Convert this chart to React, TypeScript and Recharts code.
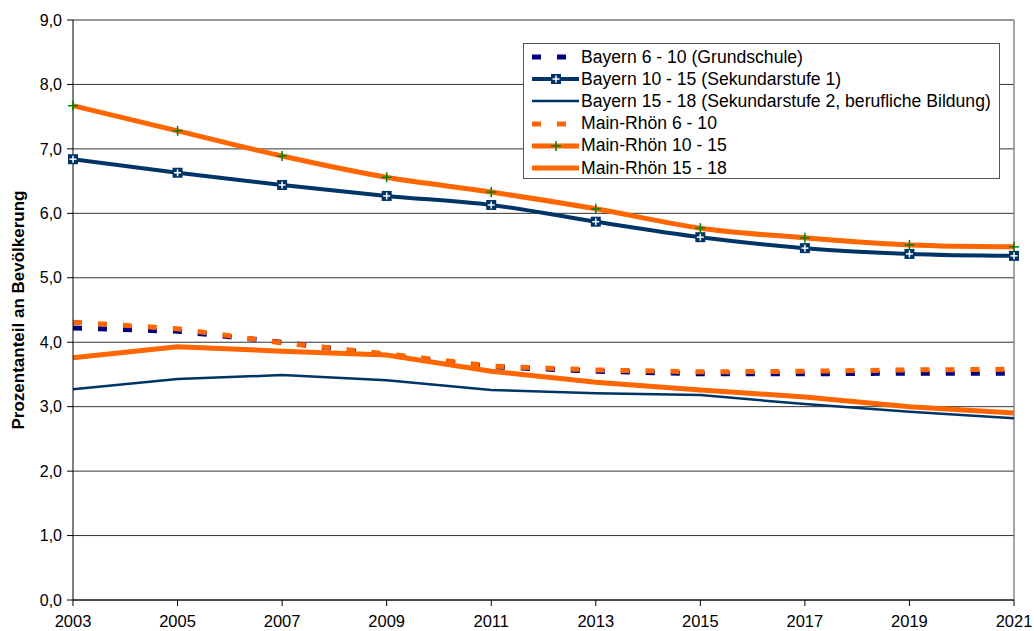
import React from 'react';
import { LineChart, Line, XAxis, YAxis, CartesianGrid, ReferenceLine } from 'recharts';

const years = [2003, 2005, 2007, 2009, 2011, 2013, 2015, 2017, 2019, 2021];
const bayern610 = [4.22, 4.17, 4.0, 3.8, 3.62, 3.55, 3.51, 3.51, 3.52, 3.52];
const bayern1015 = [6.84, 6.63, 6.44, 6.27, 6.13, 5.87, 5.63, 5.46, 5.37, 5.34];
const bayern1518 = [3.27, 3.43, 3.49, 3.41, 3.26, 3.21, 3.18, 3.04, 2.92, 2.82];
const mr610 = [4.31, 4.21, 3.99, 3.82, 3.63, 3.57, 3.54, 3.55, 3.57, 3.58];
const mr1015 = [7.67, 7.28, 6.89, 6.56, 6.33, 6.07, 5.77, 5.62, 5.51, 5.48];
const mr1518 = [3.76, 3.93, 3.86, 3.8, 3.55, 3.38, 3.26, 3.15, 3.0, 2.9];
const yTicks = [0, 1, 2, 3, 4, 5, 6, 7, 8, 9];

const data = years.map((y, i) => ({
  year: y,
  b610: bayern610[i],
  b1015: bayern1015[i],
  b1518: bayern1518[i],
  m610: mr610[i],
  m1015: mr1015[i],
  m1518: mr1518[i],
}));

const NAVY = '#000080';
const DARKBLUE = '#003366';
const ORANGE = '#FF6600';
const GREEN = '#008000';
const FONT = '"Liberation Sans", Arial, sans-serif';

const series = [
  { key: 'b610', name: 'Bayern 6 - 10 (Grundschule)', color: NAVY, width: 5, dash: '9 16', marker: 'none', curve: 'linear' },
  { key: 'b1015', name: 'Bayern 10 - 15 (Sekundarstufe 1)', color: DARKBLUE, width: 4, dash: undefined, marker: 'square', curve: 'monotone' },
  { key: 'b1518', name: 'Bayern 15 - 18 (Sekundarstufe 2, berufliche Bildung)', color: DARKBLUE, width: 2.5, dash: undefined, marker: 'none', curve: 'linear' },
  { key: 'm610', name: 'Main-Rhön 6 - 10', color: ORANGE, width: 5, dash: '9 16', marker: 'none', curve: 'linear' },
  { key: 'm1015', name: 'Main-Rhön 10 - 15', color: ORANGE, width: 5, dash: undefined, marker: 'plus', curve: 'monotone' },
  { key: 'm1518', name: 'Main-Rhön 15 - 18', color: ORANGE, width: 5, dash: undefined, marker: 'none', curve: 'linear' },
];

const SquareDot = (props: any) => {
  const { cx, cy } = props;
  if (cx == null || cy == null) return null;
  return (
    <g>
      <rect x={cx - 5} y={cy - 5} width={10} height={10} fill={DARKBLUE} />
      <line x1={cx - 3.5} x2={cx + 3.5} y1={cy} y2={cy} stroke="#fff" strokeWidth={1.5} />
      <line x1={cx} x2={cx} y1={cy - 3.5} y2={cy + 3.5} stroke="#fff" strokeWidth={1.5} />
    </g>
  );
};

const PlusDot = (props: any) => {
  const { cx, cy } = props;
  if (cx == null || cy == null) return null;
  return (
    <g>
      <line x1={cx - 5} x2={cx + 5} y1={cy} y2={cy} stroke={GREEN} strokeWidth={1.5} />
      <line x1={cx} x2={cx} y1={cy - 5} y2={cy + 5} stroke={GREEN} strokeWidth={1.5} />
    </g>
  );
};

const LegendBox = () => (
  <div
    style={{
      position: 'absolute',
      left: 523,
      top: 43,
      width: 477,
      height: 136,
      border: '1px solid #555',
      background: '#fff',
      padding: '2px 0 0 0',
      fontFamily: FONT,
      fontSize: 17.6,
      color: '#000',
      boxSizing: 'border-box',
    }}
  >
    {series.map((s) => (
      <div key={s.key} style={{ display: 'flex', alignItems: 'center', height: 22.2 }}>
        <svg width={56} height={22} style={{ flex: 'none' }}>
          <line
            x1={8}
            x2={55}
            y1={11}
            y2={11}
            stroke={s.color}
            strokeWidth={s.width}
            strokeDasharray={s.dash ? '9 16' : undefined}
          />
          {s.marker === 'square' && <SquareDot cx={32} cy={11} />}
          {s.marker === 'plus' && <PlusDot cx={32} cy={11} />}
        </svg>
        <span style={{ marginLeft: 1, whiteSpace: 'nowrap' }}>{s.name}</span>
      </div>
    ))}
  </div>
);

const YLabel = (props: any) => {
  const vb = props.viewBox || {};
  const cx = 18;
  const cy = (vb.y ?? 20) + (vb.height ?? 580) / 2;
  return (
    <text
      x={cx}
      y={cy}
      transform={`rotate(-90, ${cx}, ${cy})`}
      textAnchor="middle"
      dominantBaseline="central"
      fontFamily={FONT}
      fontWeight="bold"
      fontSize={17}
      fill="#000"
    >
      Prozentanteil an Bevölkerung
    </text>
  );
};

export default function App() {
  return (
    <div style={{ position: 'absolute', left: 0, top: 0, width: 1034, height: 631, background: '#fff' }}>
      <LineChart width={1034} height={631} data={data} margin={{ top: 20, right: 20, bottom: 1, left: 0 }}>
        <CartesianGrid vertical={false} stroke="#333" strokeWidth={1} />
        <XAxis
          dataKey="year"
          type="number"
          domain={[2003, 2021]}
          ticks={years}
          height={30}
          stroke="#000"
          tickSize={6}
          tickMargin={9}
          tick={{ fill: '#000', fontSize: 16.5, fontFamily: FONT }}
          tickLine={{ stroke: '#000' }}
        />
        <YAxis
          width={73}
          domain={[0, 9]}
          ticks={yTicks}
          stroke="#000"
          tickSize={6}
          tickMargin={5}
          tickFormatter={(v: number) => v.toFixed(1).replace('.', ',')}
          tick={{ fill: '#000', fontSize: 16, fontFamily: FONT }}
          label={<YLabel />}
        />
        <ReferenceLine x={2021} stroke="#888" strokeWidth={1.5} />
        {series.map((s) => (
          <Line
            key={s.key}
            dataKey={s.key}
            name={s.name}
            type={s.curve as any}
            stroke={s.color}
            strokeWidth={s.width}
            strokeDasharray={s.dash}
            dot={s.marker === 'square' ? <SquareDot /> : s.marker === 'plus' ? <PlusDot /> : false}
            activeDot={false}
            isAnimationActive={false}
          />
        ))}
      </LineChart>
      <LegendBox />
    </div>
  );
}
